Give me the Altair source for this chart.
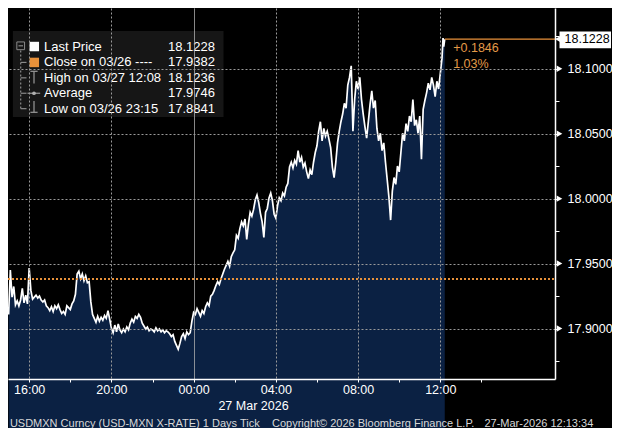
import altair as alt
import pandas as pd

# ---------------- data (USD/MXN ticks, 5-min samples) ----------------
p15 = [17.9109, 17.9450, 17.9242, 17.9324, 17.9183, 17.9213, 17.9175, 17.9220, 17.9309, 17.9198, 17.9257, 17.9190]
p16 = [17.9465, 17.9294, 17.9227, 17.9242, 17.9257, 17.9235, 17.9250, 17.9220, 17.9205, 17.9220, 17.9175, 17.9161]
p17 = [17.9138, 17.9168, 17.9131, 17.9175, 17.9153, 17.9183, 17.9146, 17.9116, 17.9131, 17.9109, 17.9175, 17.9161]
p18 = [17.9146, 17.9190, 17.9213, 17.9264, 17.9420, 17.9442, 17.9383, 17.9420, 17.9368, 17.9405, 17.9353, 17.9361]
p19 = [17.9205, 17.9109, 17.9079, 17.9049, 17.9094, 17.9057, 17.9087, 17.9064, 17.9101, 17.9079, 17.9138, 17.9072]
p20 = [17.9005, 17.8968, 17.9027, 17.8975, 17.9035, 17.8990, 17.8968, 17.8997, 17.8975, 17.9012, 17.8990, 17.9042]
p21 = [17.9072, 17.9049, 17.9094, 17.9079, 17.9109, 17.9087, 17.9042, 17.9020, 17.8997, 17.9012, 17.8983, 17.8997]
p22 = [17.8990, 17.8975, 17.9005, 17.8983, 17.8997, 17.8975, 17.8990, 17.8968, 17.8983, 17.8975, 17.8960, 17.8938]
p23 = [17.8953, 17.8901, 17.8871, 17.8841, 17.8886, 17.8938, 17.8960, 17.8923, 17.8975, 17.8953, 17.8968, 17.9057]
p00 = [17.9124, 17.9109, 17.9153, 17.9124, 17.9094, 17.9138, 17.9116, 17.9168, 17.9198, 17.9175, 17.9250, 17.9264]
p01 = [17.9294, 17.9331, 17.9361, 17.9339, 17.9383, 17.9420, 17.9457, 17.9487, 17.9517, 17.9480, 17.9554, 17.9583]
p02 = [17.9606, 17.9717, 17.9695, 17.9769, 17.9821, 17.9791, 17.9843, 17.9687, 17.9806, 17.9895, 17.9865, 17.9917]
p03 = [17.9991, 18.0028, 17.9969, 17.9887, 17.9821, 17.9702, 17.9895, 17.9924, 18.0006, 18.0043, 17.9984, 17.9880]
p04 = [17.9850, 17.9947, 18.0006, 17.9984, 18.0043, 18.0021, 18.0088, 18.0117, 18.0243, 18.0280, 18.0236, 18.0295]
p05 = [18.0266, 18.0369, 18.0280, 18.0318, 18.0243, 18.0273, 18.0206, 18.0154, 18.0221, 18.0184, 18.0280, 18.0355]
p06 = [18.0407, 18.0518, 18.0592, 18.0444, 18.0540, 18.0481, 18.0518, 18.0458, 18.0392, 18.0243, 18.0162, 18.0280]
p07 = [18.0429, 18.0518, 18.0592, 18.0651, 18.0733, 18.0696, 18.0874, 18.0933, 18.1022, 18.0518, 18.0763, 18.0903]
p08 = [18.0844, 18.0933, 18.0763, 18.0651, 18.0555, 18.0466, 18.0592, 18.0725, 18.0829, 18.0696, 18.0755, 18.0540]
p09 = [18.0444, 18.0503, 18.0369, 18.0429, 18.0280, 18.0147, 18.0013, 17.9835, 18.0058, 18.0162, 18.0110, 18.0251]
p10 = [18.0206, 18.0355, 18.0503, 18.0444, 18.0577, 18.0518, 18.0636, 18.0592, 18.0763, 18.0562, 18.0607, 18.0503]
p11 = [18.0636, 18.0303, 18.0688, 18.0755, 18.0814, 18.0889, 18.0837, 18.0933, 18.0874, 18.0785, 18.0903, 18.0844]
p12 = [18.0963, 18.1081]
tail_times = ["12:08", "12:10", "12:13"]
tail_prices = [18.1236, 18.1170, 18.1228]

blocks = [p15, p16, p17, p18, p19, p20, p21, p22, p23, p00, p01, p02,
          p03, p04, p05, p06, p07, p08, p09, p10, p11, p12]
start_hour = 15  # 26 Mar 15:00

close_prev = 17.9382
last_price = 18.1228
y_ticks = [17.875, 17.90, 17.925, 17.95, 17.975, 18.00, 18.025, 18.05, 18.075, 18.10, 18.125]
y_majors = [17.90, 17.95, 18.00, 18.05, 18.10]
x_ticks = list(range(16, 39, 2))          # hours since 26 Mar 00:00
legend_labels = ["Last Price", "Close on 03/26 ----", "High on 03/27 12:08", "Average", "Low on 03/26 23:15"]
legend_values = ["18.1228", "17.9382", "18.1236", "17.9746", "17.8841"]
change_abs = "+0.1846"
change_pct = "1.03%"
date_label = "27 Mar 2026"
footer_left = "USDMXN Curncy (USD-MXN X-RATE) 1 Days Tick"
footer_mid = "Copyright\u00a9 2026 Bloomberg Finance L.P."
footer_right = "27-Mar-2026 12:13:34"

# ---------------- build table ----------------
hours, prices = [], []
for bi, block in enumerate(blocks):
    for j, v in enumerate(block):
        hours.append(start_hour + bi + j * 5 / 60)
        prices.append(v)
for t, v in zip(tail_times, tail_prices):
    hh, mm = t.split(":")
    hours.append(24 + int(hh) + int(mm) / 60)
    prices.append(v)
df = pd.DataFrame({"hour": hours, "price": prices})

# ---------------- layout ----------------
SY = 420 / 436
W, H = 547, 371
FONT = "Liberation Sans"
NAVY = "#0b2143"
ORANGE = "#e8913a"
GRID = "#9a9a9a"
X_DOM = [14.97, 41.58]
Y_DOM = [17.8612, 18.1467]

xs = alt.Scale(domain=X_DOM, nice=False, zero=False)
ys = alt.Scale(domain=Y_DOM, nice=False, zero=False)

x_axis = alt.Axis(
    values=x_ticks, title=None, zindex=1,
    labelExpr="datum.value % 4 == 0 ? ((datum.value % 24) < 10 ? '0' : '') + (datum.value % 24) + ':00' : ''",
    grid=True, gridWidth=1,
    gridColor={"condition": {"test": "datum.value == 24", "value": "#b4b4b4"}, "value": GRID},
    gridDash={"condition": {"test": "datum.value == 24", "value": [1, 0]}, "value": [2, 2]},
    gridOpacity={"condition": {"test": "datum.value % 4 == 0", "value": 1}, "value": 0},
    domainColor="white", domainWidth=1.5, tickColor="white", tickSize=3,
    labelColor="white", labelFont=FONT, labelFontSize=12.5, labelPadding=1,
    labelOverlap=False, labelFlush=False)
y_axis = alt.Axis(
    orient="right", values=y_ticks, title=None, zindex=1,
    labelExpr="round(datum.value*1000) % 50 == 0 ? format(datum.value, '.4f') : ''",
    grid=True, gridColor=GRID, gridDash=[2, 2], gridWidth=1,
    gridOpacity={"condition": {"test": "round(datum.value*1000) % 50 == 0", "value": 1}, "value": 0},
    domainColor="white", domainWidth=1.5, tickColor="white", tickSize=4,
    labelColor="white", labelFont=FONT, labelFontSize=12.5, labelPadding=8,
    labelOverlap=False, labelFlush=False)


def X(field):
    return alt.X(field, scale=xs, axis=x_axis, title=None)


def Y(field):
    return alt.Y(field, scale=ys, axis=y_axis, title=None)


area = alt.Chart(df).mark_area(color=NAVY, opacity=1).encode(
    x=X("hour:Q"), y=Y("price:Q"), y2=alt.value(H))

line = alt.Chart(df).mark_line(color="white", strokeWidth=1.7).encode(
    x=X("hour:Q"), y=Y("price:Q"))

close_rule = alt.Chart(pd.DataFrame({"price": [close_prev], "k": ["c"]})).mark_rule(
    color=ORANGE, strokeDash=[2, 2], strokeWidth=2).encode(
    y=Y("price:Q"), x=alt.value(0), x2=alt.value(W))

last_rule = alt.Chart(pd.DataFrame({"hour": [hours[-1]], "price": [last_price]})).mark_rule(
    color=ORANGE, strokeWidth=1.2).encode(
    x=X("hour:Q"), x2=alt.value(W), y=Y("price:Q"))

tri = alt.Chart(pd.DataFrame({"price": y_majors, "k": ["t"] * 5})).mark_point(
    shape="triangle-right", filled=True, color="white", size=42, opacity=1).encode(
    y=Y("price:Q"), x=alt.value(W + 4.5))

# last price box on the right
lp_df = pd.DataFrame({"price": [last_price], "t": [legend_values[0]]})
lp_box = alt.Chart(lp_df).mark_rect(color="white").encode(
    x=alt.value(551.5), x2=alt.value(603), y=alt.value(23.6), y2=alt.value(40.2))
lp_tip = alt.Chart(lp_df).mark_point(shape="triangle-left", filled=True, color="white",
                                     size=45, opacity=1).encode(
    x=alt.value(550), y=Y("price:Q"))
lp_text = alt.Chart(lp_df).mark_text(align="left", baseline="middle", color="black",
                                     font=FONT, fontSize=12.5).encode(
    x=alt.value(556.5), y=Y("price:Q"), text="t:N")


def txt(s, x, y, color="white", size=12.5, align="left", baseline="middle"):
    return alt.Chart(pd.DataFrame({"t": [s]})).mark_text(
        align=align, baseline=baseline, color=color, font=FONT, fontSize=size).encode(
        x=alt.value(x), y=alt.value(y), text="t:N")


def seg(x1, x2, y1, y2, color="#9a9a9a", dash=None):
    kw = dict(color=color, strokeWidth=1.2)
    if dash:
        kw["strokeDash"] = dash
    return alt.Chart(pd.DataFrame({"a": [0]})).mark_rule(**kw).encode(
        x=alt.value(x1), x2=alt.value(x2), y=alt.value(y1), y2=alt.value(y2))


def dot(x, y, color, size, shape="square", filled=True):
    return alt.Chart(pd.DataFrame({"a": [0]})).mark_point(
        shape=shape, filled=filled, color=color, size=size, opacity=1, strokeWidth=1).encode(
        x=alt.value(x), y=alt.value(y))


chg1 = txt(change_abs, 445.2, 39.5, color="#e39a48")
chg2 = txt(change_pct, 445.2, 55.6, color="#e39a48")

# legend panel
box = alt.Chart(pd.DataFrame({"a": [0]})).mark_rect(color="#161616").encode(
    x=alt.value(4.9), x2=alt.value(215.5), y=alt.value(23.1), y2=alt.value(109))
row_y = [r * SY for r in [40, 56.5, 72.5, 88.5, 104.5]]
leg_layers = []
for lab, val, ry in zip(legend_labels, legend_values, row_y):
    leg_layers.append(txt(lab, 36, ry, size=13))
    leg_layers.append(txt(val, 207, ry, size=13, align="right"))

icons = [
    dot(26.3, row_y[0], "white", 90),
    dot(26.3, row_y[1], ORANGE, 90),
    seg(26.0, 26.0, 63.3, 75.4), seg(22.4, 29.6, 63.3, 63.3),      # high
    seg(19.5, 32.2, row_y[3], row_y[3]), dot(26.0, row_y[3], "#b0b0b0", 14, shape="circle"),  # average
    seg(26.0, 26.0, 93.1, 104.3), seg(22.4, 29.6, 104.3, 104.3),    # low
    seg(12.7, 12.7, 42.5, 100.7, color="#8a8a8a", dash=[2, 2]),     # tree
    seg(12.7, 18.5, row_y[1], row_y[1], color="#8a8a8a"),
    seg(12.7, 18.5, row_y[2], row_y[2], color="#8a8a8a"),
    seg(12.7, 18.5, row_y[3], row_y[3], color="#8a8a8a"),
    seg(12.7, 18.5, row_y[4], row_y[4], color="#8a8a8a"),
    dot(12.7, 37.8, "#8a8a8a", 60, filled=False),
    seg(10.5, 15.0, 37.8, 37.8, color="#8a8a8a"),
]

date_txt = txt(date_label, 245.5, 398, align="center")
f1 = txt(footer_left, 1.9, 415.5, color="#d8d8d8", size=11)
f2 = txt(footer_mid, 264, 415.5, color="#d8d8d8", size=11)
f3 = txt(footer_right, 476.4, 415.5, color="#d8d8d8", size=11)

chart = alt.layer(
    area, line, close_rule, last_rule, tri,
    lp_box, lp_tip, lp_text, chg1, chg2,
    box, *icons, *leg_layers,
    date_txt, f1, f2, f3,
).properties(
    width=W, height=H,
    autosize=alt.AutoSizeParams(type="none"),
    padding={"left": 0, "top": 0, "right": 57, "bottom": 49},
).configure(background="#000000").configure_view(stroke=None)

chart.save("out.html", embed_options={"renderer": "svg", "actions": False})
